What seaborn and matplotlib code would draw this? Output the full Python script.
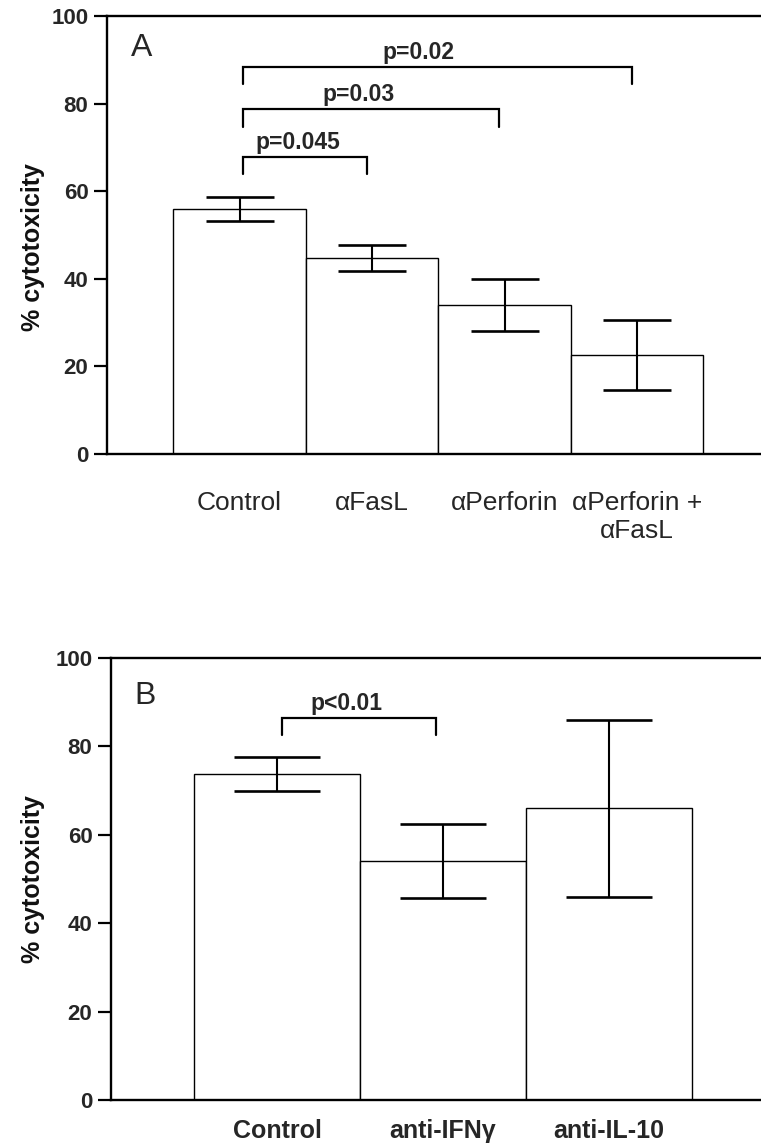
import matplotlib
matplotlib.use('Agg')
import matplotlib.pyplot as plt
import seaborn as sns

# ---- data ----
a_groups = ['Control', 'αFasL', 'αPerforin', 'αPerforin +\nαFasL']
a_means = [56.0, 44.7, 34.0, 22.5]
a_sem = [2.7, 3.0, 5.9, 8.0]

b_groups = ['Control', 'anti-IFNγ', 'anti-IL-10']
b_means = [73.7, 54.0, 66.0]
b_sem = [3.9, 8.4, 20.0]

yticks = [0, 20, 40, 60, 80, 100]
ylabel = '% cytotoxicity'

a_pvals = ['p=0.045', 'p=0.03', 'p=0.02']
a_pairs = [(0, 1), (0, 2), (0, 3)]
b_pvals = ['p<0.01']
b_pairs = [(0, 1)]

# ---- layout constants (annotation placement) ----
a_bracket_y = [67.8, 78.8, 88.4]
a_bracket_drop = [3.9, 4.1, 3.9]
a_text_x = [0.44, 0.90, 1.35]
b_bracket_y = [86.5]
b_bracket_drop = [3.9]
b_text_x = [0.42]

sns.set_style('white')
plt.rcParams['font.family'] = ['Liberation Sans', 'DejaVu Sans']

W, H = 761, 1145
fig = plt.figure(figsize=(W / 100, H / 100), dpi=100)

def px_axes(left, top, bottom):
    return fig.add_axes([left / W, (H - bottom) / H, (W - left) / W, (bottom - top) / H])

axA = px_axes(107, 16, 454)
axB = px_axes(111, 658, 1100)


def draw_panel(ax, groups, means, sem, spacing_px, left_px, capsize,
               letter, letter_xy, pvals, pairs, br_y, br_drop, tx, xlab_pad,
               xlab_size, xlab_weight, ylab_y):
    sns.barplot(x=groups, y=means, ax=ax, color='white', edgecolor='black',
                linewidth=1.0, width=1.0, errorbar=None, saturation=1, zorder=2)
    ax.errorbar(range(len(means)), means, yerr=sem, fmt='none', ecolor='black',
                elinewidth=1.5, capsize=capsize, capthick=1.9, zorder=3)
    ax.set_ylim(0, 100)
    ax.set_xlim(-1, (W - left_px) / spacing_px - 1)
    ax.set_yticks(yticks)
    ax.set_yticklabels([str(t) for t in yticks], fontsize=16, fontweight='bold')
    ax.tick_params(axis='y', length=9.4, width=1.6, direction='out', pad=4,
                   color='black', left=True)
    ax.tick_params(axis='x', length=0, pad=xlab_pad, labelsize=xlab_size)
    for lbl in ax.get_xticklabels():
        lbl.set_fontweight(xlab_weight)
        lbl.set_multialignment('center')
    ax.spines['right'].set_visible(False)
    for s in ['left', 'top', 'bottom']:
        ax.spines[s].set_visible(True)
        ax.spines[s].set_linewidth(1.7)
        ax.spines[s].set_color('black')
    ax.set_xlabel('')
    ax.set_ylabel(ylabel, fontsize=18, fontweight='bold', color='#111111')
    ax.yaxis.set_label_coords(-(left_px - 45) / (W - left_px), ylab_y)
    ax.text(letter_xy[0], letter_xy[1], letter, transform=ax.transAxes,
            fontsize=23, ha='center', va='center')
    for p, (i, j), y, d, x in zip(pvals, pairs, br_y, br_drop, tx):
        xl, xr = i + 0.03, j - 0.04
        ax.plot([xl, xl, xr, xr], [y - d, y, y, y - d], color='black', lw=1.6,
                solid_joinstyle='miter', zorder=4)
        ax.text(x, y + 0.6, p, ha='center', va='bottom', fontsize=16.5,
                fontweight='bold')


draw_panel(axA, a_groups, a_means, a_sem, 132.5, 107, 24.8, 'A', (0.0535, 0.927),
           a_pvals, a_pairs, a_bracket_y, a_bracket_drop, a_text_x, 27, 19, 'normal',
           0.473)
draw_panel(axB, b_groups, b_means, b_sem, 166, 111, 31.3, 'B', (0.052, 0.914),
           b_pvals, b_pairs, b_bracket_y, b_bracket_drop, b_text_x, 14, 18, 'bold',
           0.5)

fig.savefig('out.png', dpi=100)
